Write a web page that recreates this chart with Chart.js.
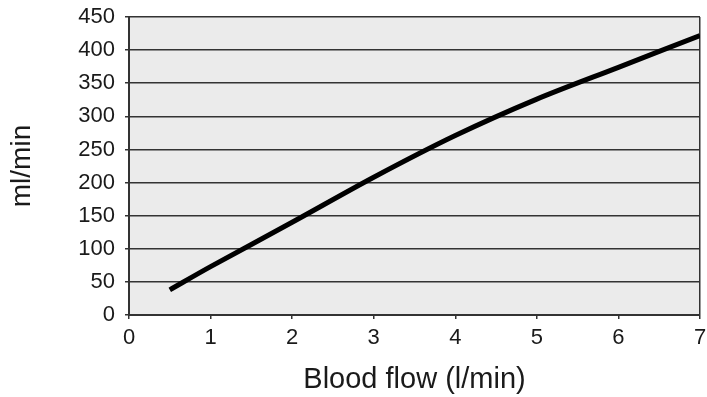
<!DOCTYPE html>
<html>
<head>
<meta charset="utf-8">
<script src="https://cdn.jsdelivr.net/npm/chart.js@4/dist/chart.umd.min.js"></script>
<style>
html,body{margin:0;padding:0;background:#fff;}
canvas{display:block;}
</style>
</head>
<body>
<canvas id="c" width="707" height="397"></canvas>
<script>
// Data
const bloodFlow = [0.5, 1, 2, 3, 4, 5, 6, 7];          // l/min
const uptake    = [38, 73, 140, 208, 271, 326, 374, 422]; // ml/min
const xTicks = [0, 1, 2, 3, 4, 5, 6, 7];
const yTicks = [0, 50, 100, 150, 200, 250, 300, 350, 400, 450];
const xTitle = 'Blood flow (l/min)';
const yTitle = 'ml/min';

const points = bloodFlow.map((x, i) => ({x: x, y: uptake[i]}));

const plotBg = {
  id: 'plotBg',
  beforeDraw(chart) {
    const {ctx, chartArea: a} = chart;
    ctx.save();
    ctx.fillStyle = '#ebebeb';
    ctx.fillRect(a.left, a.top, a.right - a.left, a.bottom - a.top);
    ctx.restore();
  }
};

const FONT = "'Liberation Sans', Arial, sans-serif";

new Chart(document.getElementById('c'), {
  type: 'scatter',
  data: {
    datasets: [{
      data: points,
      showLine: true,
      borderColor: '#000',
      borderWidth: 5,
      pointRadius: 0,
      tension: 0.3,
      fill: false
    }]
  },
  options: {
    responsive: false,
    animation: false,
    layout: {padding: {top: 17, right: 7, left: 0, bottom: 0}},
    plugins: {legend: {display: false}, tooltip: {enabled: false}},
    scales: {
      x: {
        type: 'linear',
        min: xTicks[0],
        max: xTicks[xTicks.length - 1],
        afterBuildTicks(scale) { scale.ticks = xTicks.map(v => ({value: v})); },
        afterFit(scale) { scale.height = 82; scale.paddingLeft = 0; scale.paddingRight = 0; },
        grid: {
          color: (c) => (c.tick && c.tick.value === 7) ? '#333' : 'rgba(0,0,0,0)',
          lineWidth: 1.5,
          tickColor: '#333',
          tickLength: 4,
          drawTicks: true
        },
        border: {color: '#333', width: 2},
        ticks: {color: '#1a1a1a', font: {family: FONT, size: 22}, padding: 6, maxRotation: 0},
        title: {display: true, text: xTitle, color: '#1a1a1a', font: {family: FONT, size: 29}, padding: {top: 0, bottom: 0}}
      },
      y: {
        type: 'linear',
        min: yTicks[0],
        max: yTicks[yTicks.length - 1],
        afterBuildTicks(scale) { scale.ticks = yTicks.map(v => ({value: v})); },
        afterFit(scale) { scale.width = 129; scale.paddingTop = 0; scale.paddingBottom = 0; },
        grid: {color: '#333', lineWidth: 1.5, tickColor: '#333', tickLength: 4},
        border: {color: '#333', width: 2},
        ticks: {color: '#1a1a1a', font: {family: FONT, size: 22}, padding: 10},
        title: {display: true, text: yTitle, color: '#1a1a1a', font: {family: FONT, size: 28}, padding: {top: 5, bottom: 0}}
      }
    }
  },
  plugins: [plotBg]
});
</script>
</body>
</html>
